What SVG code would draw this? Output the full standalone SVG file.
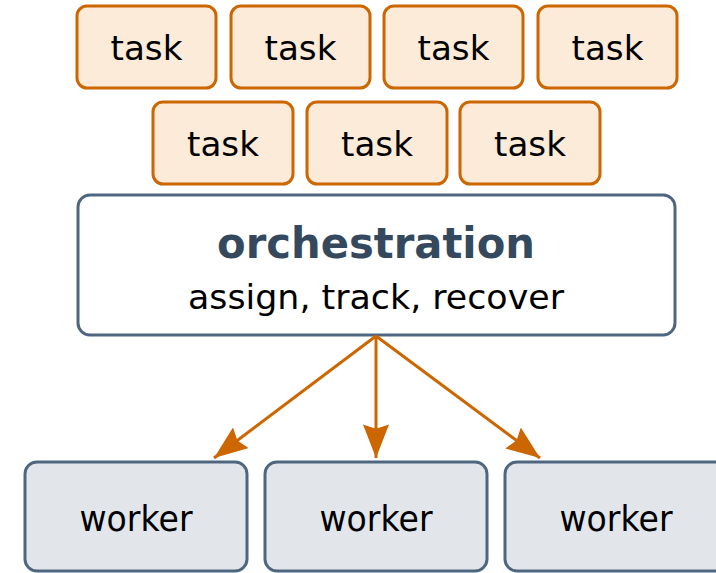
<svg xmlns="http://www.w3.org/2000/svg" width="716" height="573" viewBox="0 0 716 573">
<style>
.task rect{fill:#fdebd9;stroke:#cc6600;stroke-width:3}
.task text{font-family:"DejaVu Sans",sans-serif;font-size:34px;fill:#000;text-anchor:middle}
.orch rect{fill:#fff;stroke:#4e6680;stroke-width:3}
.title{font-family:"DejaVu Sans",sans-serif;font-weight:bold;font-size:43px;fill:#34495e;text-anchor:middle}
.sub{font-family:"DejaVu Sans",sans-serif;font-size:34px;fill:#000;text-anchor:middle}
.worker rect{fill:#e2e6eb;stroke:#4e6680;stroke-width:3}
.worker text{font-family:"DejaVu Sans",sans-serif;font-size:35px;fill:#000;text-anchor:middle}
.edge{stroke:#cc6600;stroke-width:3;fill:none;marker-end:url(#ah)}
</style>
<defs>
<marker id="ah" markerUnits="userSpaceOnUse" markerWidth="34" markerHeight="26" viewBox="0 0 31 24" refX="31" refY="12" orient="auto">
<path d="M0,0 L31,12 L0,24 L4,12 Z" fill="#cc6600"/>
</marker>
</defs>
<g id="task1" class="task"><rect x="77" y="6" width="139" height="82" rx="10"/><text x="146.5" y="60" textLength="72" lengthAdjust="spacingAndGlyphs">task</text></g>
<g id="task2" class="task"><rect x="231" y="6" width="139" height="82" rx="10"/><text x="300.5" y="60" textLength="72" lengthAdjust="spacingAndGlyphs">task</text></g>
<g id="task3" class="task"><rect x="384" y="6" width="139" height="82" rx="10"/><text x="453.5" y="60" textLength="72" lengthAdjust="spacingAndGlyphs">task</text></g>
<g id="task4" class="task"><rect x="538" y="6" width="139" height="82" rx="10"/><text x="607.5" y="60" textLength="72" lengthAdjust="spacingAndGlyphs">task</text></g>
<g id="task5" class="task"><rect x="153" y="102" width="140" height="82" rx="10"/><text x="223" y="156" textLength="72" lengthAdjust="spacingAndGlyphs">task</text></g>
<g id="task6" class="task"><rect x="307" y="102" width="140" height="82" rx="10"/><text x="377" y="156" textLength="72" lengthAdjust="spacingAndGlyphs">task</text></g>
<g id="task7" class="task"><rect x="460" y="102" width="140" height="82" rx="10"/><text x="530" y="156" textLength="72" lengthAdjust="spacingAndGlyphs">task</text></g>
<g id="orchestration" class="orch"><rect x="78" y="195" width="597" height="140" rx="12"/>
<text class="title" x="376" y="258" textLength="318" lengthAdjust="spacingAndGlyphs">orchestration</text>
<text class="sub" x="376" y="309" textLength="376" lengthAdjust="spacingAndGlyphs">assign, track, recover</text></g>
<g id="connectors">
<line class="edge" x1="376" y1="336" x2="214" y2="458"/>
<line class="edge" x1="376" y1="336" x2="376" y2="458"/>
<line class="edge" x1="376" y1="336" x2="540" y2="458"/>
</g>
<g id="worker1" class="worker"><rect x="25" y="462" width="222" height="109" rx="12"/><text x="136" y="531" textLength="113" lengthAdjust="spacingAndGlyphs">worker</text></g>
<g id="worker2" class="worker"><rect x="265" y="462" width="222" height="109" rx="12"/><text x="376" y="531" textLength="113" lengthAdjust="spacingAndGlyphs">worker</text></g>
<g id="worker3" class="worker"><rect x="505" y="462" width="222" height="109" rx="12"/><text x="616" y="531" textLength="113" lengthAdjust="spacingAndGlyphs">worker</text></g>
</svg>
